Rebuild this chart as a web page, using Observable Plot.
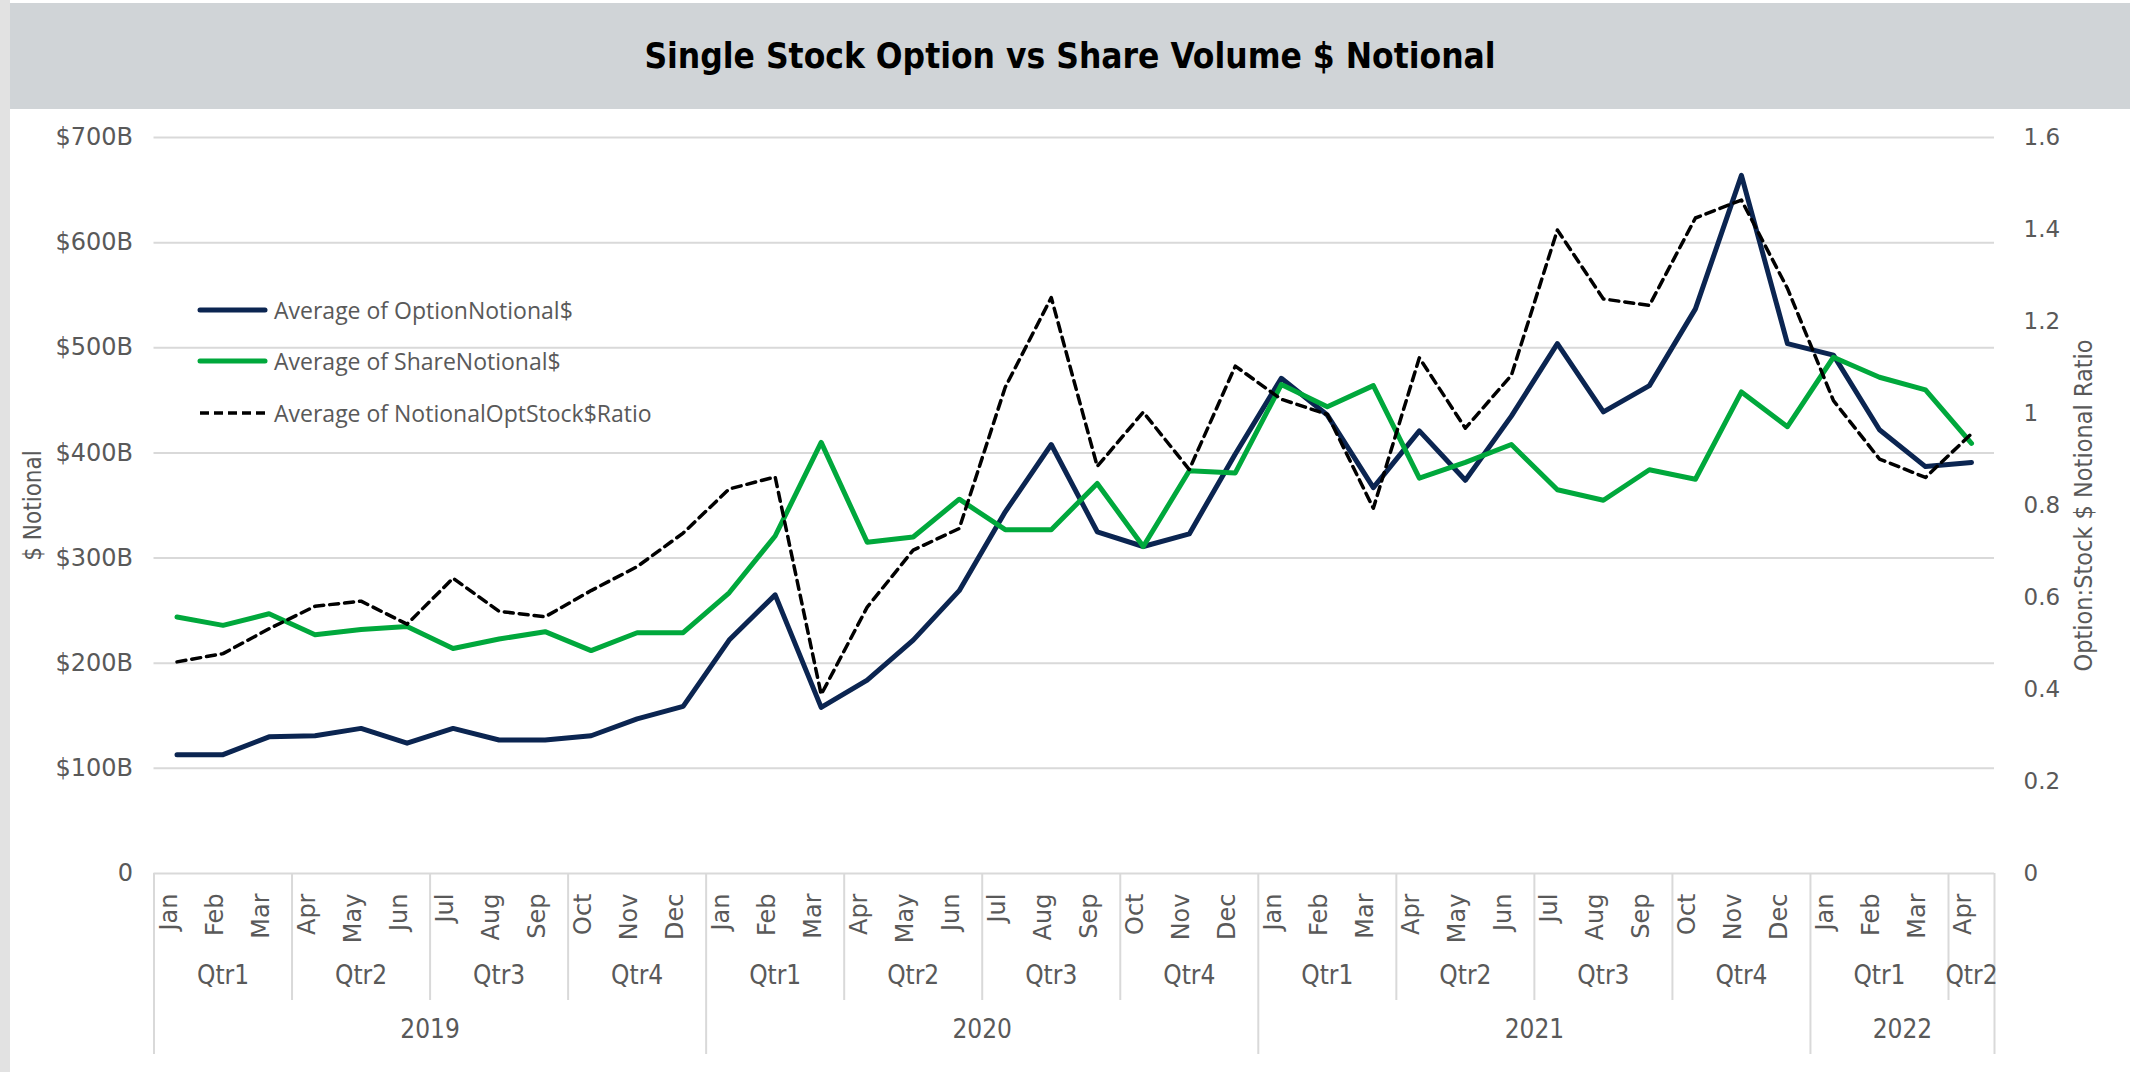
<!DOCTYPE html>
<html>
<head>
<meta charset="utf-8">
<script src="https://cdn.jsdelivr.net/npm/d3@7"></script>
<script src="https://cdn.jsdelivr.net/npm/@observablehq/plot@0.6"></script>
<style>
  body { margin: 0; background: #fff; width: 2130px; height: 1072px; overflow: hidden; position: relative; }
  #leftbar { position: absolute; left: 0; top: 0; width: 10px; height: 1072px; background: #e2e2e2; }
  #band { position: absolute; left: 10px; top: 3px; width: 2120px; height: 106px; background: #d0d4d7;
          display: flex; align-items: center; justify-content: center; }
  #title { font-family: "Liberation Sans Narrow", "DejaVu Sans Condensed", "Open Sans", sans-serif; font-weight: 700;
           font-size: 35px; color: #000; }
  #chart { position: absolute; left: 0; top: 110px; }
  .leg { position: absolute; left: 197px; height: 30px; display: flex; align-items: center;
         font-family: "Open Sans", sans-serif; font-size: 23px; color: #595959; }
  .leg svg { margin-right: 6px; }
</style>
</head>
<body>
<div id="leftbar"></div>
<div id="band"><div id="title">Single Stock Option vs Share Volume $ Notional</div></div>
<div id="chart"></div>
<div class="leg" style="top:295px"><svg width="71" height="10"><line x1="3" y1="5" x2="68" y2="5" stroke="#0b2551" stroke-width="5" stroke-linecap="round"/></svg>Average of OptionNotional$</div>
<div class="leg" style="top:346px"><svg width="71" height="10"><line x1="3" y1="5" x2="68" y2="5" stroke="#00a83c" stroke-width="5" stroke-linecap="round"/></svg>Average of ShareNotional$</div>
<div class="leg" style="top:398px"><svg width="71" height="10"><line x1="3" y1="5" x2="68" y2="5" stroke="#000" stroke-width="3.5" stroke-dasharray="9,5"/></svg>Average of NotionalOptStock$Ratio</div>
<script>
// ---- data ----
const months = ["Jan","Feb","Mar","Apr","May","Jun","Jul","Aug","Sep","Oct","Nov","Dec",
                "Jan","Feb","Mar","Apr","May","Jun","Jul","Aug","Sep","Oct","Nov","Dec",
                "Jan","Feb","Mar","Apr","May","Jun","Jul","Aug","Sep","Oct","Nov","Dec",
                "Jan","Feb","Mar","Apr"];
const years = ["2019","2020","2021","2022"];
const quarterNames = ["Qtr1","Qtr2","Qtr3","Qtr4"];
// $ billions
const optionNotional = [113,113,130,131,138,124,138,127,127,131,147,159,
                        222,265,158,184,222,269,344,408,325,311,323,399,
                        471,436,367,421,374,435,504,439,464,537,664,504,
                        493,422,387,391];
const shareNotional  = [244,236,247,227,232,235,214,223,230,212,229,229,
                        267,321,410,315,320,356,327,327,371,311,383,381,
                        465,444,464,376,391,408,365,355,384,375,458,425,
                        491,472,460,409];
const ratio          = [0.460,0.478,0.532,0.581,0.592,0.542,0.642,0.570,0.558,0.615,0.667,0.740,
                        0.836,0.862,0.389,0.579,0.703,0.750,1.057,1.252,0.885,1.003,0.878,1.103,
                        1.031,0.998,0.794,1.121,0.968,1.083,1.399,1.249,1.235,1.425,1.464,1.272,
                        1.028,0.901,0.861,0.956];
const leftTicks  = [0,100,200,300,400,500,600,700];
const rightTicks = [0,0.2,0.4,0.6,0.8,1.0,1.2,1.4,1.6];

// ---- derived tables ----
const navy = "#0b2551", green = "#00a83c", grey = "#595959", gridC = "#d9d9d9";
const N = months.length;
const K = 700 / 1.6; // secondary-axis mapping
const monthOrder = ["Jan","Feb","Mar","Apr","May","Jun","Jul","Aug","Sep","Oct","Nov","Dec"];
const rows = d3.range(N).map(i => {
  const m = monthOrder.indexOf(months[i]);
  return {i, month: months[i], year: years[Math.floor(i / 12)], quarter: quarterNames[Math.floor(m / 3)],
          opt: optionNotional[i], share: shareNotional[i], ratio: ratio[i]};
});
const qGroups = d3.groups(rows, d => d.year + d.quarter).map(([k, v]) => ({
  label: v[0].quarter, center: d3.mean(v, d => d.i), start: v[0].i - 0.5, end: v[v.length - 1].i + 0.5}));
const yGroups = d3.groups(rows, d => d.year).map(([k, v]) => ({
  label: k, center: d3.mean(v, d => d.i), start: v[0].i - 0.5, end: v[v.length - 1].i + 0.5}));
const yearBounds = Array.from(new Set(yGroups.flatMap(g => [g.start, g.end])));
const quarterBounds = Array.from(new Set(qGroups.flatMap(g => [g.start, g.end]))).filter(b => !yearBounds.includes(b));

const narrow = "'Liberation Sans Narrow', 'DejaVu Sans Condensed', 'Open Sans', sans-serif";
const frameH = 962 - 27 - 199;

const chart = Plot.plot({
  width: 2130,
  height: 962,
  marginLeft: 153.5,
  marginRight: 136,
  marginTop: 27,
  marginBottom: 199,
  x: {type: "linear", domain: [-0.5, N - 0.5], axis: null},
  y: {domain: [0, 700], axis: null},
  style: {fontFamily: "'DejaVu Sans', sans-serif", fontSize: "24px", color: grey, background: "transparent"},
  marks: [
    Plot.ruleY(leftTicks, {y: d => d, stroke: gridC, strokeWidth: 2}),
    Plot.ruleX(quarterBounds, {x: d => d, stroke: gridC, strokeWidth: 2, insetTop: frameH, insetBottom: -127}),
    Plot.ruleX(yearBounds, {x: d => d, stroke: gridC, strokeWidth: 2, insetTop: frameH, insetBottom: -181}),
    Plot.line(rows, {x: "i", y: "opt", stroke: navy, strokeWidth: 5, strokeLinecap: "round", strokeLinejoin: "round"}),
    Plot.line(rows, {x: "i", y: "share", stroke: green, strokeWidth: 5, strokeLinecap: "round", strokeLinejoin: "round"}),
    Plot.line(rows, {x: "i", y: d => d.ratio * K, stroke: "#000", strokeWidth: 3.5, strokeDasharray: "9,6", strokeLinejoin: "round"}),
    // left ticks
    Plot.text(leftTicks, {y: d => d, text: d => d === 0 ? "0" : `$${d}B`, frameAnchor: "left", textAnchor: "end", dx: -21, fill: grey, fontSize: 24}),
    // right ticks
    Plot.text(rightTicks, {y: d => d * K, text: d => String(+d.toFixed(1)), frameAnchor: "right", textAnchor: "start", dx: 29, fill: grey, fontSize: 23}),
    // month labels
    Plot.text(rows, {x: "i", text: "month", frameAnchor: "bottom", rotate: -90, textAnchor: "end", dy: 20, fill: grey, fontSize: 24}),
    // quarter labels
    Plot.text(qGroups, {x: "center", text: "label", frameAnchor: "bottom", dy: 110, fill: grey, fontSize: 26, fontFamily: narrow}),
    // year labels
    Plot.text(yGroups, {x: "center", text: "label", frameAnchor: "bottom", dy: 164, fill: grey, fontSize: 26, fontFamily: narrow}),
    // axis titles
    Plot.text(["$ Notional"], {y: 350, text: d => d, frameAnchor: "left", textAnchor: "middle", dx: -121, rotate: -90, fill: grey, fontSize: 24, fontFamily: narrow}),
    Plot.text(["Option:Stock $ Notional Ratio"], {y: 350, text: d => d, frameAnchor: "right", textAnchor: "middle", dx: 89, rotate: -90, fill: grey, fontSize: 25, fontFamily: narrow})
  ]
});
document.getElementById("chart").append(chart);
</script>
</body>
</html>
